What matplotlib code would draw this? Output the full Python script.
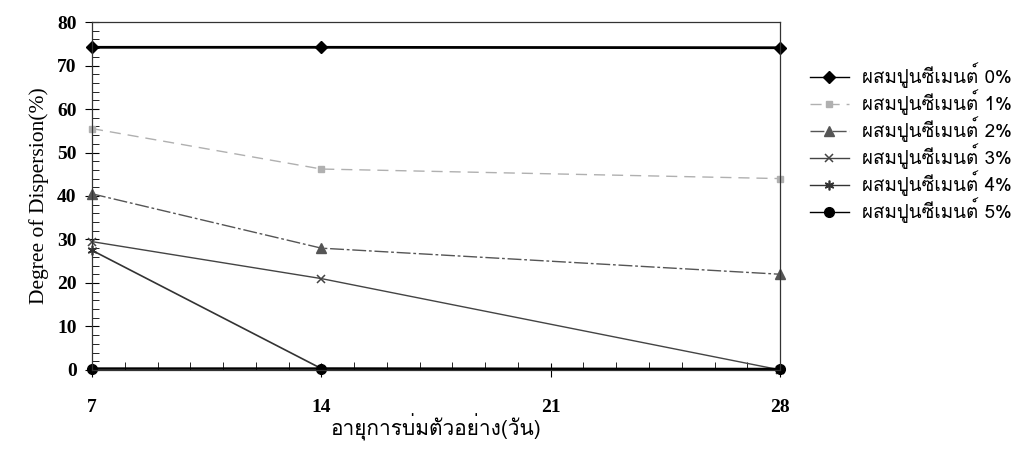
import matplotlib
matplotlib.use("Agg")
import matplotlib.pyplot as plt
from matplotlib import font_manager
from matplotlib.ft2font import FT2Font
from matplotlib.ticker import MultipleLocator

# หาแบบอักษรที่มีอักษรไทย
thai_font = None
for f in font_manager.fontManager.ttflist:
    try:
        if 0x0E1C in FT2Font(f.fname).get_charmap():
            thai_font = f.name
            break
    except Exception:
        pass

serif = ['Liberation Serif', 'DejaVu Serif']
thai_fam = ([thai_font] if thai_font else []) + ['Liberation Serif', 'DejaVu Sans']

days = [7, 14, 28]
labels = ['ผสมปูนซีเมนต์ 0%', 'ผสมปูนซีเมนต์ 1%', 'ผสมปูนซีเมนต์ 2%',
          'ผสมปูนซีเมนต์ 3%', 'ผสมปูนซีเมนต์ 4%', 'ผสมปูนซีเมนต์ 5%']
cement0 = [74.2, 74.2, 74.1]
cement1 = [55.5, 46.2, 44.0]
cement2 = [40.5, 28.0, 22.0]
cement3 = [29.5, 21.0, 0.0]
cement4 = [27.5, 0.3, 0.2]
cement5 = [0.3, 0.3, 0.2]

series = [cement0, cement1, cement2, cement3, cement4, cement5]
styles = [
    dict(color='black', marker='D', markersize=6, lw=2.0, ls='-'),
    dict(color='#b0b0b0', marker='s', markersize=4, lw=1.0, ls=(0, (8, 5))),
    dict(color='#555555', marker='^', markersize=7, lw=1.0, ls=(0, (10, 2, 2, 2))),
    dict(color='#444444', marker='x', markersize=6, lw=1.0, ls='-', mew=1.1),
    dict(color='#333333', marker=(6, 2, 0), markersize=7, lw=1.2, ls='-', mew=1.2),
    dict(color='black', marker='o', markersize=7, lw=1.8, ls='-'),
]

fig = plt.figure(figsize=(10.19, 4.70), dpi=100)
ax = fig.add_axes([0.0903, 0.213, 0.6752, 0.740])

handles = []
for vals, st, lab in zip(series, styles, labels):
    h, = ax.plot(days, vals, label=lab, clip_on=False, **st)
    handles.append(h)

ax.set_xlim(7, 28)
ax.set_ylim(0, 80)
ax.xaxis.set_major_locator(MultipleLocator(7))
ax.xaxis.set_minor_locator(MultipleLocator(1))
ax.yaxis.set_major_locator(MultipleLocator(10))
ax.yaxis.set_minor_locator(MultipleLocator(2))
ax.tick_params(axis='x', which='major', direction='inout', length=10, pad=16)
ax.tick_params(axis='x', which='minor', direction='in', length=6)
ax.tick_params(axis='y', which='major', direction='inout', length=10, pad=6)
ax.tick_params(axis='y', which='minor', direction='in', length=5)
for lab in ax.get_xticklabels() + ax.get_yticklabels():
    lab.set_family(serif)
    lab.set_fontweight('bold')
    lab.set_fontsize(14)
for s in ax.spines.values():
    s.set_linewidth(0.9)
    s.set_color('#333333')

ax.set_ylabel('Degree of Dispersion(%)', family=serif, fontsize=15.5, labelpad=6)
ax.set_xlabel('อายุการบ่มตัวอย่าง(วัน)', family=thai_fam, fontsize=15)
ax.xaxis.set_label_coords(0.5, -0.125)

leg = fig.legend(handles=handles, loc='upper left', bbox_to_anchor=(0.778, 0.903),
                 frameon=False, prop={'family': thai_fam, 'size': 13.5},
                 handlelength=2.1, labelspacing=0.07, handletextpad=0.7)
for ln in leg.get_lines():
    ln.set_linewidth(1.0)

fig.savefig('out.png', dpi=100)
